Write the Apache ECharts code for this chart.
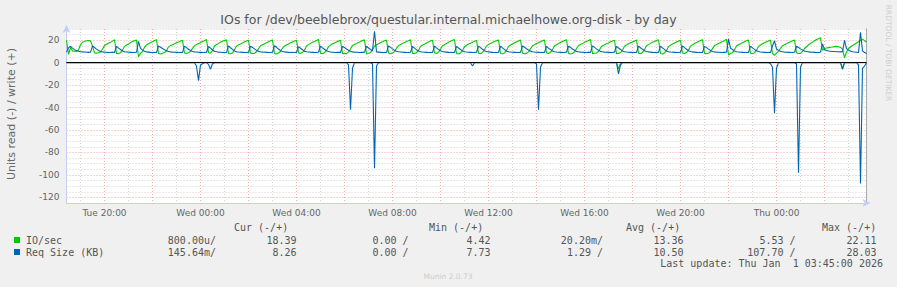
<!DOCTYPE html>
<html><head><meta charset="utf-8">
<script src="https://cdn.jsdelivr.net/npm/echarts@6/dist/echarts.min.js"></script>
<style>html,body{margin:0;padding:0;background:#f0f0f0}#c{width:897px;height:287px}</style>
</head><body><div id="c"></div>
<script>
// ---- data ----
const chartTitle = 'IOs for /dev/beeblebrox/questular.internal.michaelhowe.org-disk - by day';
const yAxisTitle = 'Units read (-) / write (+)';
const startMinute = 1105;   // Tue 18:25 (minutes since Tue 00:00)
const stepMinutes = 5;
const endMinute = 3105;     // Thu 03:45
const xTickMinutes = [1200, 1440, 1680, 1920, 2160, 2400, 2640, 2880];
const xTickLabels = ['Tue 20:00', 'Wed 00:00', 'Wed 04:00', 'Wed 08:00', 'Wed 12:00', 'Wed 16:00', 'Wed 20:00', 'Thu 00:00'];
const yTickLabels = [-120, -100, -80, -60, -40, -20, 0, 20];
const yMin = -125, yMax = 30;

const ioWrite = [20.0,
 7.4,13.5,10.5,10.2,10.0,11.5,16.0,18.2,18.8,19.5,19.7,19.4,
 14.6,8.7,8.5,8.9,9.6,12.0,15.3,16.4,17.3,18.1,19.2,20.4,
 8.3,8.0,8.8,11.2,14.5,15.8,16.6,17.9,18.8,19.6,20.1,
 5.2,8.4,9.9,13.8,15.7,16.9,18.0,18.7,19.8,20.5,
 8.1,7.7,8.3,9.0,10.6,14.1,15.2,16.0,16.8,17.7,18.4,19.3,19.9,
 8.6,8.2,8.9,10.1,12.7,15.0,16.1,17.0,17.8,18.9,19.5,20.6,
 9.0,8.4,10.7,14.9,16.2,17.1,18.3,19.0,19.7,20.3,
 8.0,7.9,8.7,11.8,14.6,15.9,16.7,17.6,18.6,19.4,20.0,
 8.5,8.1,8.4,9.7,12.3,15.1,16.0,16.9,17.8,18.7,19.6,20.2,
 8.2,7.8,8.6,9.9,13.0,14.8,15.7,16.6,17.7,18.5,19.3,19.9,
 8.7,8.3,9.1,11.4,14.9,16.1,17.2,18.1,18.9,19.8,20.7,
 8.4,7.9,8.8,10.9,14.3,15.6,16.8,17.5,18.4,19.2,19.9,
 8.0,8.3,8.1,9.4,12.2,15.4,16.3,17.1,18.0,18.8,19.7,20.3,
 7.8,8.2,9.0,11.6,14.7,15.9,16.9,17.8,18.7,19.5,20.1,
 8.6,8.0,8.5,9.8,12.9,15.2,16.2,17.0,17.9,18.9,19.6,20.4,
 8.3,8.1,8.9,11.1,14.4,15.7,16.5,17.6,18.5,19.3,20.0,
 8.8,8.2,9.3,11.9,15.0,16.0,17.1,18.2,19.0,19.9,20.6,
 8.1,7.7,8.6,10.8,14.2,15.5,16.6,17.4,18.3,19.1,19.8,
 8.5,8.0,9.2,11.5,14.8,16.2,17.0,17.9,18.8,19.6,20.3,
 8.2,7.9,8.7,11.0,14.5,15.8,16.7,17.7,18.6,19.4,20.2,
 8.4,8.0,8.3,9.6,12.4,15.0,16.1,17.0,17.8,18.7,19.5,20.1,
 8.7,8.1,9.0,11.7,14.9,16.0,17.0,18.0,18.9,19.7,20.5,
 8.3,7.8,8.2,9.5,12.6,15.3,16.2,17.1,18.1,18.9,19.8,20.6,
 8.0,8.4,8.6,9.9,13.1,15.1,16.0,16.8,17.6,18.6,19.4,20.0,
 7.9,8.3,8.8,11.3,14.6,15.9,16.8,17.7,18.5,19.3,20.2,
 8.5,8.0,9.1,11.8,15.0,16.1,17.2,18.1,18.9,19.8,20.4,
 8.2,7.8,8.7,10.9,14.3,15.6,16.6,17.5,18.4,19.2,20.0,
 8.6,8.1,9.0,11.4,14.7,16.0,17.0,17.9,18.8,19.7,20.5,
 8.3,7.9,8.4,9.7,12.5,15.2,16.1,17.0,17.9,18.8,19.6,20.9,
 6.8,8.2,9.0,11.6,14.8,16.0,16.9,17.8,18.7,19.5,20.2,
 8.4,8.0,8.8,11.2,14.5,15.8,16.8,17.7,18.6,19.4,20.1,
 8.1,6.5,8.5,9.8,12.8,15.1,16.0,16.9,17.8,18.7,19.5,20.2,
 8.7,8.2,8.3,10.0,12.6,14.2,15.9,17.1,18.3,19.5,20.6,21.4,22.11,
 11.1,12.6,13.0,13.4,13.8,14.0,14.3,14.5,14.2,13.6,12.0,4.42,
 9.5,12.6,14.0,15.3,16.4,17.5,18.6,19.8,21.0,19.6,18.39];

const reqWrite = [9.4,
 13.2,14.6,13.0,11.6,10.8,10.2,9.8,9.6,9.5,9.3,9.2,9.4,
 14.8,13.5,12.1,10.9,10.0,9.6,9.4,9.3,9.1,9.0,9.2,9.1,
 14.5,13.0,11.7,10.4,9.7,9.5,9.3,9.2,9.0,9.1,9.3,
 19.0,12.8,11.2,10.1,9.6,9.4,9.2,9.1,9.0,9.2,
 15.0,13.8,12.6,11.5,10.6,9.9,9.6,9.4,9.3,9.2,9.1,9.0,9.2,
 14.7,13.4,12.0,10.8,10.0,9.6,9.5,9.3,9.2,9.0,9.1,9.3,
 14.4,12.9,11.3,10.2,9.7,9.4,9.3,9.1,9.0,9.2,
 14.9,13.3,11.8,10.5,9.8,9.5,9.3,9.2,9.1,9.0,9.2,
 14.6,13.6,12.3,11.0,10.1,9.7,9.4,9.3,9.2,9.1,9.0,9.3,
 15.1,13.7,12.2,10.9,10.0,9.6,9.4,9.2,9.1,9.0,9.1,9.2,
 14.3,12.9,11.5,10.3,9.7,9.5,9.3,9.2,9.0,9.1,9.3,
 14.8,13.2,11.9,10.6,9.9,9.5,9.3,9.1,9.0,9.2,9.1,
 14.5,13.5,12.2,11.0,10.1,9.6,9.4,9.3,9.1,9.0,9.2,9.3,
 14.6,13.1,11.8,10.6,28.03,9.6,9.4,9.2,9.1,9.0,9.2,
 14.9,13.6,12.3,11.1,10.2,9.7,9.5,9.3,9.2,9.0,9.1,9.3,
 14.4,13.0,11.6,10.4,9.8,9.5,9.3,9.2,9.1,9.0,9.2,
 14.7,13.2,11.8,10.6,9.9,9.6,9.4,9.2,9.1,9.0,9.2,
 14.5,13.1,11.7,10.5,9.8,9.5,9.3,9.2,9.0,9.1,9.3,
 14.8,13.4,12.0,10.7,9.9,9.6,9.4,9.2,9.1,9.0,9.2,
 14.6,13.2,11.8,10.5,9.8,9.5,9.3,9.2,9.1,9.0,9.1,
 14.9,13.7,12.4,11.2,10.3,9.8,9.5,9.3,9.2,9.1,9.0,9.2,
 14.4,13.0,11.7,10.5,9.8,9.5,9.3,9.2,9.0,9.1,9.3,
 14.7,13.5,12.2,11.0,10.1,9.7,9.4,9.3,9.1,9.0,9.2,9.1,
 15.0,13.6,12.3,11.0,10.1,9.7,9.4,9.3,9.2,9.0,9.1,9.3,
 14.5,13.1,11.7,10.5,9.8,9.5,9.3,9.2,9.1,9.0,9.2,
 14.8,13.3,11.9,10.6,9.9,9.6,9.4,9.2,9.1,9.0,9.2,
 14.6,13.2,11.8,10.5,9.8,9.5,9.3,9.2,9.0,9.1,9.3,
 14.9,13.4,12.0,10.7,9.9,9.6,9.4,9.2,9.1,9.0,9.2,
 14.5,13.4,12.1,10.9,10.0,9.6,9.4,9.3,9.1,9.0,9.2,9.3,
 21.0,13.0,11.7,10.5,9.8,9.5,9.3,9.2,9.0,9.1,9.2,
 14.7,13.2,11.8,10.6,9.9,9.5,9.3,9.2,9.1,9.0,9.2,
 14.8,19.5,12.2,11.0,10.1,9.7,9.4,9.3,9.2,9.0,9.1,9.3,
 14.6,13.5,12.3,11.2,10.4,9.9,9.6,9.4,9.3,9.2,9.0,9.1,9.3,
 16.8,11.8,10.9,10.4,10.2,10.0,9.9,9.8,9.7,9.6,9.8,20.0,
 12.5,11.2,10.3,9.8,9.5,9.3,9.0,27.0,10.5,9.0,8.26];

// read (negative) values: [sample index, value]; all other samples read 0
const ioReadSpikes = [[276, -5.53], [388, -5.0]];
const reqReadSpikes = [[65,-3],[66,-16],[67,-2],[68,-1],[71,-1.5],[72,-6],[73,-1],
 [141,-2],[142,-42],[143,-5],[153,-1],[154,-94],[155,-3],[203,-3],
 [235,-1],[236,-42],[237,-4],[276,-10],[277,-2],
 [352,-1],[353,-4],[354,-45],[355,-5],[365,-1],[366,-98],[367,-4],
 [388,-6],[396,-2],[397,-107.7],[398,-5],[399,-3]];

const legendNames = ['IO/sec', 'Req Size (KB)'];
const statHeaders = ['Cur (-/+)', 'Min (-/+)', 'Avg (-/+)', 'Max (-/+)'];
const curRead = ['800.00u/', '145.64m/'];
const curWrite = ['18.39', '8.26'];
const minRead = ['0.00 /', '0.00 /'];
const minWrite = ['4.42', '7.73'];
const avgRead = ['20.20m/', '1.29 /'];
const avgWrite = ['13.36', '10.50'];
const maxRead = ['5.53 /', '107.70 /'];
const maxWrite = ['22.11', '28.03'];
const lastUpdate = 'Last update: Thu Jan  1 03:45:00 2026';
const footer = 'Munin 2.0.73';
const sideText = 'RRDTOOL / TOBI OETIKER';

// ---- build ----
const nSamples = ioWrite.length;
const xAt = i => startMinute + i * stepMinutes;
const toPairs = arr => arr.map((v, i) => [xAt(i), v]);
function fromSpikes(spikes) {
  const arr = new Array(nSamples).fill(0);
  spikes.forEach(([i, v]) => { arr[i] = v; });
  return arr;
}
const hourGrid = [];
for (let m = Math.ceil(startMinute / 60) * 60; m <= endMinute; m += 60) hourGrid.push(m);
const yGrid = [];
for (let v = -120; v <= yMax; v += 5) yGrid.push(v);

const GREEN = '#00cc00', BLUE = '#0066b3';
const MINOR = '#d4d4d4', MAJOR = '#eeaaaa';
const AXISC = '#c5cdf2';
const FONT = '"DejaVu Sans", sans-serif';
const MONO = '"DejaVu Sans Mono", monospace';
const TXT = '#666';

const chart = echarts.init(document.getElementById('c'), null, { renderer: 'svg' });

function lineSeries(name, data, color, extra) {
  return Object.assign({
    name, type: 'line', data: toPairs(data), symbol: 'none', showSymbol: false,
    lineStyle: { color, width: 1.1 }, itemStyle: { color }, emphasis: { disabled: true },
    animation: false, clip: true
  }, extra || {});
}

const g = [];
g.push({ type: 'text', x: 448.5, y: 19.5, style: { text: chartTitle, fill: '#555', font: '12.5px ' + FONT, textAlign: 'center', textVerticalAlign: 'middle' } });
g.push({ type: 'text', x: 11, y: 114, rotation: Math.PI / 2, style: { text: yAxisTitle, fill: TXT, font: '11px ' + FONT, textAlign: 'center', textVerticalAlign: 'middle' } });
g.push({ type: 'text', x: 888.5, y: 53, rotation: -Math.PI / 2, style: { text: sideText, fill: '#cfcfcf', font: '7.5px ' + FONT, textAlign: 'center', textVerticalAlign: 'middle' } });
g.push({ type: 'text', x: 448, y: 276, style: { text: footer, fill: '#cccccc', font: '7.5px ' + FONT, textAlign: 'center', textVerticalAlign: 'middle' } });
const headerX = [234, 429, 626, 822];
statHeaders.forEach((h, k) => g.push({ type: 'text', x: headerX[k], y: 227.5, style: { text: h, fill: '#555', font: '10px ' + MONO, textAlign: 'left', textVerticalAlign: 'middle' } }));
const colRight = [216, 296.5, 408.5, 490.5, 603, 683.5, 795.5, 876.5];
const cols = [curRead, curWrite, minRead, minWrite, avgRead, avgWrite, maxRead, maxWrite];
const rowY = [240, 252];
const rowColors = [GREEN, BLUE];
legendNames.forEach((n, r) => {
  g.push({ type: 'rect', shape: { x: 14, y: rowY[r] - 3, width: 6, height: 6 }, style: { fill: rowColors[r] } });
  g.push({ type: 'text', x: 26, y: rowY[r], style: { text: n, fill: '#555', font: '10px ' + MONO, textAlign: 'left', textVerticalAlign: 'middle' } });
  cols.forEach((c, k) => g.push({ type: 'text', x: colRight[k], y: rowY[r], style: { text: c[r], fill: '#555', font: '10px ' + MONO, textAlign: 'right', textVerticalAlign: 'middle' } }));
});
g.push({ type: 'text', x: 883, y: 263.5, style: { text: lastUpdate, fill: '#555', font: '10px ' + MONO, textAlign: 'right', textVerticalAlign: 'middle' } });

chart.setOption({
  animation: false,
  backgroundColor: '#f0f0f0',
  grid: { left: 66.5, top: 29, width: 800, height: 174, show: true, backgroundColor: '#ffffff', borderWidth: 0 },
  xAxis: {
    type: 'value', min: startMinute, max: endMinute,
    axisLine: { show: true, onZero: false, lineStyle: { color: AXISC, width: 1 }, symbol: ['none', 'arrow'], symbolSize: [6, 8], symbolOffset: [0, 4] },
    axisTick: { show: false, customValues: hourGrid },
    axisLabel: { customValues: xTickMinutes, formatter: v => xTickLabels[xTickMinutes.indexOf(v)] || '', color: TXT, fontSize: 9, fontFamily: FONT, margin: 5 },
    splitLine: { show: true, lineStyle: { color: [MINOR, MAJOR], width: 1, type: [1, 2] } },
    minorTick: { show: false }, minorSplitLine: { show: false }
  },
  yAxis: [{
    type: 'value', min: yMin, max: yMax,
    axisLine: { show: true, onZero: false, lineStyle: { color: AXISC, width: 1 }, symbol: ['none', 'arrow'], symbolSize: [6, 8], symbolOffset: [0, 4] },
    axisTick: { show: false, customValues: yGrid },
    axisLabel: { customValues: yTickLabels, color: TXT, fontSize: 9, fontFamily: FONT, margin: 7 },
    splitLine: { show: true, lineStyle: { color: [MAJOR, MINOR, MINOR, MINOR], width: 1, type: [1, 2] } }
  }, {
    type: 'value', min: yMin, max: yMax, position: 'right',
    axisLine: { show: true, onZero: false, lineStyle: { color: '#a8a8a8', width: 1 } },
    axisTick: { show: false }, axisLabel: { show: false }, splitLine: { show: false }
  }],
  series: [
    lineSeries('IO/sec read', fromSpikes(ioReadSpikes), GREEN),
    lineSeries('IO/sec write', ioWrite, GREEN),
    lineSeries('Req Size read', fromSpikes(reqReadSpikes), BLUE),
    lineSeries('Req Size write', reqWrite, BLUE, {
      markLine: { silent: true, symbol: 'none', animation: false, label: { show: false },
        lineStyle: { color: '#000', width: 1, type: 'solid' }, data: [{ yAxis: 0 }] }
    })
  ],
  graphic: g
});
</script></body></html>
